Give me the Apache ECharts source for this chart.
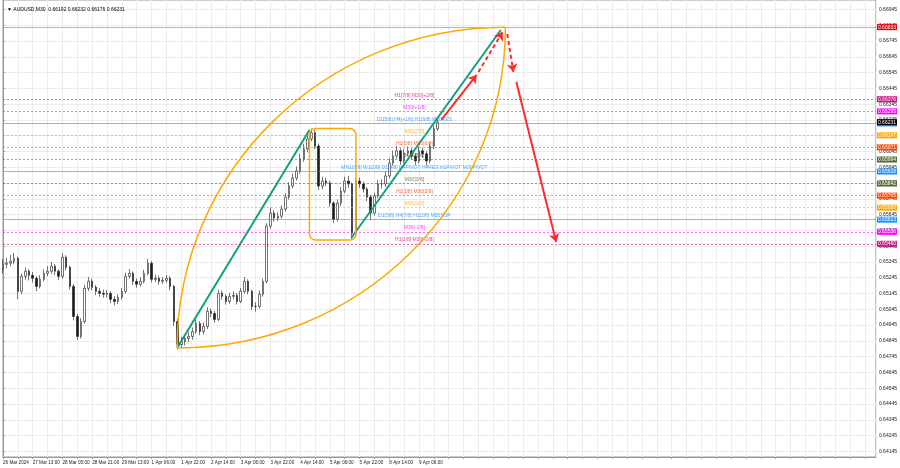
<!DOCTYPE html>
<html><head><meta charset="utf-8">
<script src="https://cdn.jsdelivr.net/npm/echarts@6/dist/echarts.min.js"></script>
<style>html,body{margin:0;padding:0;background:#fff}#c{width:900px;height:468px}</style>
</head><body><div id="c"></div>
<script>
// ---------- DATA ----------
const chartTitle = '\u25BC AUDUSD,M30  0.66192 0.66232 0.66176 0.66231';
const timeLabels = ['26 Mar 2024','27 Mar 13:00','28 Mar 05:00','28 Mar 21:00','29 Mar 13:00','1 Apr 06:00','1 Apr 22:00','2 Apr 14:00','3 Apr 06:00','3 Apr 22:00','4 Apr 14:00','5 Apr 06:00','5 Apr 22:00','8 Apr 14:00','9 Apr 06:00'];
const priceTicks = [0.64145,0.64245,0.64345,0.64445,0.64545,0.64645,0.64745,0.64845,0.64945,0.65045,0.65145,0.65245,0.65345,0.65445,0.65545,0.65645,0.65745,0.65845,0.65945,0.66045,0.66145,0.66245,0.66345,0.66445,0.66545,0.66645,0.66745,0.66845,0.66945];
// one candle = 4 M30 bars
const firstOpen = 0.65300;
const closes = [0.65330,0.65337,0.65349,0.65368,0.65159,0.65254,0.65286,0.65260,0.65241,0.65190,
 0.65235,0.65273,0.65286,0.65318,0.65286,0.65254,0.65375,0.65311,0.65190,0.65000,
 0.64873,0.64968,0.65178,0.65222,0.65184,0.65159,0.65146,0.65140,0.65146,0.65108,
 0.65095,0.65121,0.65159,0.65254,0.65273,0.65222,0.65203,0.65222,0.65273,0.65337,
 0.65235,0.65241,0.65222,0.65229,0.65241,0.65190,0.64968,0.64822,0.64841,0.64860,
 0.64873,0.64904,0.64955,0.64904,0.64936,0.65032,0.65019,0.64981,0.65146,0.65127,
 0.65095,0.65127,0.65133,0.65095,0.65159,0.65222,0.65159,0.65063,0.65063,0.65140,
 0.65222,0.65572,0.65655,0.65623,0.65635,0.65680,0.65756,0.65826,0.65877,0.65922,
 0.65998,0.66061,0.66125,0.66163,0.66080,0.65826,0.65858,0.65845,0.65718,0.65616,
 0.65718,0.65794,0.65858,0.65839,0.65527,0.65858,0.65839,0.65807,0.65756,0.65655,
 0.65763,0.65839,0.65839,0.65890,0.65972,0.66017,0.66049,0.65985,0.66036,0.66049,
 0.66017,0.65985,0.66049,0.66030,0.65985,0.66080,0.66189,0.66231];
const highs = [0.65362,0.65371,0.65390,0.65402,0.65380,0.65270,0.65310,0.65300,0.65281,0.65255,
 0.65262,0.65298,0.65318,0.65345,0.65331,0.65300,0.65400,0.65388,0.65322,0.65205,
 0.65015,0.64990,0.65200,0.65250,0.65240,0.65198,0.65180,0.65170,0.65168,0.65160,
 0.65128,0.65140,0.65180,0.65278,0.65300,0.65285,0.65240,0.65248,0.65295,0.65365,
 0.65350,0.65265,0.65258,0.65250,0.65262,0.65255,0.65200,0.64985,0.64870,0.64885,
 0.64900,0.64930,0.64980,0.64970,0.64962,0.65058,0.65050,0.65035,0.65170,0.65165,
 0.65140,0.65150,0.65158,0.65148,0.65180,0.65250,0.65235,0.65170,0.65090,0.65165,
 0.65240,0.65590,0.65690,0.65672,0.65660,0.65705,0.65780,0.65850,0.65905,0.65950,
 0.66030,0.66095,0.66155,0.66190,0.66180,0.66095,0.65885,0.65880,0.65860,0.65730,
 0.65740,0.65820,0.65885,0.65890,0.65850,0.65880,0.65880,0.65855,0.65820,0.65770,
 0.65785,0.65865,0.65870,0.65920,0.66000,0.66050,0.66080,0.66065,0.66060,0.66078,
 0.66065,0.66035,0.66075,0.66070,0.66045,0.66100,0.66210,0.66250];
const lows = [0.65270,0.65305,0.65318,0.65330,0.65110,0.65140,0.65232,0.65228,0.65215,0.65160,
 0.65178,0.65221,0.65255,0.65270,0.65262,0.65230,0.65240,0.65292,0.65170,0.64975,
 0.64850,0.64860,0.64955,0.65160,0.65165,0.65135,0.65125,0.65118,0.65120,0.65085,
 0.65070,0.65078,0.65105,0.65145,0.65240,0.65200,0.65182,0.65190,0.65210,0.65260,
 0.65215,0.65218,0.65200,0.65205,0.65212,0.65165,0.64940,0.64790,0.64800,0.64815,
 0.64838,0.64850,0.64890,0.64880,0.64885,0.64920,0.64995,0.64960,0.64970,0.65105,
 0.65075,0.65080,0.65108,0.65075,0.65085,0.65145,0.65140,0.65040,0.65030,0.65050,
 0.65125,0.65210,0.65555,0.65600,0.65605,0.65620,0.65665,0.65740,0.65810,0.65860,
 0.65905,0.65980,0.66040,0.66110,0.66060,0.65800,0.65805,0.65825,0.65695,0.65590,
 0.65600,0.65700,0.65780,0.65815,0.65490,0.65510,0.65815,0.65785,0.65730,0.65610,
 0.65640,0.65750,0.65810,0.65820,0.65875,0.65955,0.66000,0.65960,0.65970,0.66015,
 0.65995,0.65960,0.65970,0.66005,0.65955,0.65970,0.66060,0.66176];
const levelPrices = [0.66376,0.66299,0.66223,0.66147,0.66071,0.65994,0.65918,0.65842,0.65765,0.65689,0.65613,0.65536,0.65460];
const levelNames = ['H1[7/8] M30[+2/8]','M30[+1/8]','D1[5/8] H4[+1/8] H1[6/8] M30RES','M30[7/8]','H1[5/8] M30[6/8]','M30[5/8]','MN1[3/8] W1[2/8] D1[4/8] H4PIVOT H4RES H1PIVOT M30PIVOT','M30[3/8]','H1[3/8] M30[2/8]','M30[1/8]','D1[3/8] H4[7/8] H1[2/8] M30SUP','M30[-1/8]','H1[1/8] M30[-2/8]'];
const levelColors = ['#c71585','#ff00ff','#1e90ff','#ffa500','#ff4500','#556b2f','#1e90ff','#556b2f','#ff4500','#ffa500','#1e90ff','#ff00ff','#c71585'];
const levelSolid = [false,false,true,false,false,false,true,false,false,false,true,false,false];
const targetPrice = 0.66833;
const lastPrice = 0.66231;
// drawings: [bar index (M30), price]
const greenLines = [[[187.5,0.64800],[330,0.66181]],[[375,0.65497],[536,0.66815]]];
const boxCorners = [[330,0.66190],[380,0.65484]];
const arcStart = [187.5,0.64800];
const arcEnd = [541,0.66833];
const arrows = [
  {from:[472,0.66245], to:[510,0.66530], dashed:false},
  {from:[512,0.66549], to:[538,0.66802], dashed:true},
  {from:[543,0.66789], to:[549.6,0.66549], dashed:true},
  {from:[552.8,0.66486], to:[595.7,0.65472], dashed:false}
];

// ---------- CHART ----------
const barsPerCandle = 4;
const candleData = closes.map((c,i)=>[i*barsPerCandle, i? closes[i-1] : firstOpen, c, lows[i], highs[i]]);
const FONT = 'Liberation Sans';
const chart = echarts.init(document.getElementById('c'), null, {renderer:'canvas'});

function fade(hex, a){
  const n = parseInt(hex.slice(1),16);
  return 'rgba(' + ((n>>16)&255) + ',' + ((n>>8)&255) + ',' + (n&255) + ',' + a + ')';
}
const tagLabel = (txt,bg)=>({show:true, position:'end', distance:1, formatter:txt, backgroundColor:bg, color:'#fff', fontSize:5, fontFamily:FONT, padding:[1,1,0,1]});
const levelMarks = levelPrices.map((p,i)=>({
  yAxis:p,
  lineStyle:{color:fade(levelColors[i], levelSolid[i]?0.6:0.6), type: levelSolid[i]?'solid':[2,2], width:1},
  label:tagLabel(p.toFixed(5), levelColors[i])
}));
levelMarks.push({yAxis:lastPrice, lineStyle:{color:'rgba(0,0,0,0)'}, label:tagLabel(lastPrice.toFixed(5), '#000')});
levelMarks.push({yAxis:targetPrice, lineStyle:{color:'rgba(255,80,80,0.6)', type:'solid', width:1}, label:tagLabel(targetPrice.toFixed(5), '#e8000b')});

const option = {
  animation:false,
  backgroundColor:'#fff',
  title:{text:chartTitle, left:2, top:2, textStyle:{fontSize:5, fontWeight:'normal', color:'#000', fontFamily:FONT}},
  grid:{left:0, right:23, top:0, bottom:11, show:true, borderColor:'#999', borderWidth:1},
  xAxis:{type:'value', min:0, max:940, interval:16,
    axisLine:{show:true, lineStyle:{color:'#999'}},
    axisTick:{show:true, length:2, lineStyle:{color:'#999'}},
    axisLabel:{show:true, fontSize:4.6, fontFamily:FONT, color:'#222', align:'left', margin:3, showMaxLabel:false,
      formatter:v=> (v%32===0 && timeLabels[v/32]) ? timeLabels[v/32] : ''},
    splitLine:{show:true, lineStyle:{color:'#ececec', width:1}}
  },
  yAxis:{type:'value', position:'right', min:0.64109, max:0.67005, scale:true,
    axisLine:{show:true, lineStyle:{color:'#999'}},
    axisTick:{show:true, length:2, customValues:priceTicks, lineStyle:{color:'#999'}},
    axisLabel:{show:true, customValues:priceTicks, fontSize:5, fontFamily:FONT, color:'#222', margin:3, formatter:v=>v.toFixed(5)},
    splitLine:{show:true, lineStyle:{color:'#ececec', width:1}}
  },
  series:[
    {type:'line', name:'levels', data:[], silent:true, z:1,
      markLine:{silent:true, precision:6, symbol:['none','none'], animation:false, data:levelMarks}
    },
    {type:'candlestick', name:'AUDUSD', data:candleData, encode:{x:0, y:[1,2,3,4]}, barWidth:2, z:2,
      itemStyle:{color:'#ffffff', color0:'#1a1a1a', borderColor:'#1a1a1a', borderColor0:'#1a1a1a', borderWidth:0.6}
    },
    {type:'scatter', name:'levelText', symbolSize:1, itemStyle:{color:'rgba(0,0,0,0)'}, silent:true, z:4,
      data:levelPrices.map((p,i)=>({value:[443,p], label:{color:levelColors[i]}})),
      label:{show:true, position:'top', distance:1, fontSize:5, fontFamily:FONT, formatter:(pr)=>levelNames[pr.dataIndex]}
    },
    ...greenLines.map(seg=>({type:'line', data:seg, symbol:'none', silent:true, lineStyle:{color:'#12a07a', width:2}, z:3})),
    {type:'line', data:[], silent:true, z:6,
      markLine:{silent:true, precision:6, symbol:['none','arrow'], symbolSize:8, animation:false, label:{show:false},
        data:arrows.map(a=>[{coord:a.from, lineStyle:{color:'#ff2a2a', width:2, type:a.dashed?[4,3]:'solid'}, itemStyle:{color:'#ff2a2a'}},{coord:a.to, itemStyle:{color:'#ff2a2a'}}])}
    }
  ]
};
chart.setOption(option);

function px(pt){ return chart.convertToPixel({xAxisIndex:0, yAxisIndex:0}, pt); }
const k = 0.5523;
const A = arcStart, B = arcEnd;
const up = [A, [A[0], A[1] + k*(B[1]-A[1])], [B[0] - k*(B[0]-A[0]), B[1]], B].map(px);
const lo = [A, [A[0] + k*(B[0]-A[0]), A[1]], [B[0], B[1] - k*(B[1]-A[1])], B].map(px);
const b1 = px(boxCorners[0]), b2 = px(boxCorners[1]);
chart.setOption({graphic:[
  {type:'bezierCurve', silent:true, z:5, shape:{x1:up[0][0],y1:up[0][1],cpx1:up[1][0],cpy1:up[1][1],cpx2:up[2][0],cpy2:up[2][1],x2:up[3][0],y2:up[3][1]}, style:{stroke:'#ffa800', lineWidth:1.5, fill:null}},
  {type:'bezierCurve', silent:true, z:5, shape:{x1:lo[0][0],y1:lo[0][1],cpx1:lo[1][0],cpy1:lo[1][1],cpx2:lo[2][0],cpy2:lo[2][1],x2:lo[3][0],y2:lo[3][1]}, style:{stroke:'#ffa800', lineWidth:1.5, fill:null}},
  {type:'rect', silent:true, z:5, shape:{x:Math.min(b1[0],b2[0]), y:Math.min(b1[1],b2[1]), width:Math.abs(b2[0]-b1[0]), height:Math.abs(b2[1]-b1[1]), r:6}, style:{stroke:'#ffa800', lineWidth:1.5, fill:null}}
]});
</script></body></html>
